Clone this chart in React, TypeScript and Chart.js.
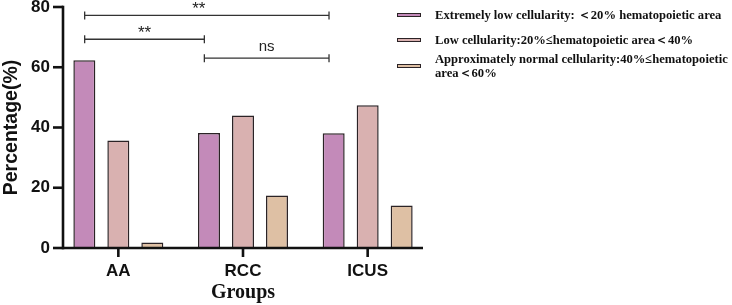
import React, { useEffect, useRef } from "react";
import { Chart, registerables } from "chart.js";

Chart.register(...registerables);

const groups = ["AA", "RCC", "ICUS"];
const seriesLabels = [
  "Extremely low cellularity: ＜20% hematopoietic area",
  "Low cellularity:20%≤hematopoietic area＜40%",
  "Approximately normal cellularity:40%≤hematopoietic area＜60%",
];
const extremelyLow = [62.3, 38.2, 38.1];
const lowCell = [35.7, 44.0, 47.4];
const normalCell = [1.8, 17.4, 14.1];
const seriesColors = ["#C38AB9", "#D9B1B0", "#DEC0A4"];
const yTicks = [0, 20, 40, 60, 80];

// significance brackets: [category index, offset in category widths]
const bracketStart: [number, number][] = [[0, -0.27], [0, -0.27], [1, -0.31]];
const bracketEnd: [number, number][] = [[2, -0.31], [1, -0.31], [2, -0.31]];
const bracketLevel = [77.2, 69.3, 63.0];
const bracketText = ["**", "**", "ns"];

const axesPlugin = {
  id: "prismAxes",
  afterDatasetsDraw(chart: any) {
    const { ctx, chartArea, scales } = chart;
    const xs = scales.x;
    const ys = scales.y;
    const axisX = chartArea.left + 7;
    const axisY = ys.getPixelForValue(0);
    ctx.save();
    ctx.strokeStyle = "#111";
    ctx.lineWidth = 2.6;
    ctx.lineCap = "butt";
    // y axis
    ctx.beginPath();
    ctx.moveTo(axisX, ys.getPixelForValue(80) - 1.3);
    ctx.lineTo(axisX, axisY + 1.3);
    ctx.stroke();
    yTicks.forEach((v) => {
      const py = ys.getPixelForValue(v);
      ctx.beginPath();
      ctx.moveTo(axisX - 10, py);
      ctx.lineTo(axisX, py);
      ctx.stroke();
    });
    // x axis
    ctx.beginPath();
    ctx.moveTo(axisX, axisY);
    ctx.lineTo(chartArea.right - 7, axisY);
    ctx.stroke();
    groups.forEach((_, i) => {
      const px = xs.getPixelForValue(i);
      ctx.beginPath();
      ctx.moveTo(px, axisY);
      ctx.lineTo(px, axisY + 9);
      ctx.stroke();
    });
    // brackets
    const catW = xs.getPixelForValue(1) - xs.getPixelForValue(0);
    ctx.lineWidth = 1.3;
    ctx.strokeStyle = "#333";
    ctx.fillStyle = "#222";
    ctx.textAlign = "center";
    ctx.textBaseline = "alphabetic";
    bracketText.forEach((t, i) => {
      const x1 = xs.getPixelForValue(bracketStart[i][0]) + bracketStart[i][1] * catW;
      const x2 = xs.getPixelForValue(bracketEnd[i][0]) + bracketEnd[i][1] * catW;
      const y = ys.getPixelForValue(bracketLevel[i]);
      ctx.beginPath();
      ctx.moveTo(x1, y);
      ctx.lineTo(x2, y);
      ctx.moveTo(x1, y - 4);
      ctx.lineTo(x1, y + 4);
      ctx.moveTo(x2, y - 4);
      ctx.lineTo(x2, y + 4);
      ctx.stroke();
      if (t === "ns") {
        ctx.font = "15px 'Liberation Sans', Arial, sans-serif";
        ctx.fillText(t, (x1 + x2) / 2, y - 7);
      } else {
        ctx.font = "17px 'Liberation Sans', Arial, sans-serif";
        ctx.fillText(t, (x1 + x2) / 2 - (i === 0 ? 8 : 0), y - 1.5);
      }
    });
    ctx.restore();
  },
};

export default function App() {
  const canvasRef = useRef<HTMLCanvasElement | null>(null);

  useEffect(() => {
    document.body.style.margin = "0";
    const canvas = canvasRef.current;
    if (!canvas) return;
    const chart = new Chart(canvas, {
      type: "bar",
      data: {
        labels: groups,
        datasets: [extremelyLow, lowCell, normalCell].map((d, i) => ({
          label: seriesLabels[i],
          data: d,
          backgroundColor: seriesColors[i],
          borderColor: "#2b2326",
          borderWidth: 1.5,
          borderSkipped: "bottom" as const,
          categoryPercentage: 0.818,
          barPercentage: 0.647,
        })),
      },
      options: {
        responsive: false,
        animation: false,
        devicePixelRatio: 1,
        layout: { padding: { top: 7, right: 302, left: 0, bottom: 0 } },
        plugins: {
          legend: { display: false },
          tooltip: { enabled: false },
        },
        scales: {
          x: {
            grid: { display: false, drawTicks: false },
            border: { display: false },
            ticks: {
              color: "#111",
              padding: 13,
              font: { family: "'Liberation Sans', Arial, sans-serif", size: 17, weight: "bold" },
            },
            title: {
              display: true,
              text: "Groups",
              color: "#111",
              padding: { top: 0, bottom: 0 },
              font: { family: "'Liberation Serif', 'Times New Roman', serif", size: 20, weight: "bold" },
            },
            afterFit: (s: any) => {
              s.height = 57;
              s.paddingLeft = 0;
              s.paddingRight = 0;
            },
          },
          y: {
            min: 0,
            max: 80,
            grid: { display: false, drawTicks: false },
            border: { display: false },
            ticks: {
              stepSize: 20,
              color: "#111",
              padding: 6,
              font: { family: "'Liberation Sans', Arial, sans-serif", size: 17, weight: "bold" },
            },
            title: {
              display: true,
              text: "Percentage(%)",
              color: "#111",
              padding: { top: 0, bottom: 0 },
              font: { family: "'Liberation Sans', Arial, sans-serif", size: 19.5, weight: "bold" },
            },
            afterFit: (s: any) => {
              s.width = 56;
              s.paddingTop = 0;
              s.paddingBottom = 0;
            },
          },
        },
      },
      plugins: [axesPlugin],
    });
    return () => chart.destroy();
  }, []);

  const rowTops = [8, 33, 52];

  return (
    <div style={{ position: "relative", width: 732, height: 305, background: "#fff", overflow: "hidden" }}>
      <canvas ref={canvasRef} width={732} height={305} style={{ display: "block" }} />
      {seriesLabels.map((lab, i) => (
        <div
          key={lab}
          style={{
            position: "absolute",
            left: 397,
            top: rowTops[i],
            width: 334,
            display: "flex",
            alignItems: "center",
          }}
        >
          <div
            style={{
              width: 24,
              height: 4,
              boxSizing: "border-box",
              background: seriesColors[i],
              border: "1px solid #2b2326",
              flex: "0 0 auto",
            }}
          />
          <div
            style={{
              marginLeft: 14,
              fontFamily: "'Liberation Serif', 'Times New Roman', serif",
              fontWeight: "bold",
              fontSize: 12.6,
              lineHeight: "14px",
              color: "#111",
              width: 296,
            }}
          >
            {lab}
          </div>
        </div>
      ))}
    </div>
  );
}
